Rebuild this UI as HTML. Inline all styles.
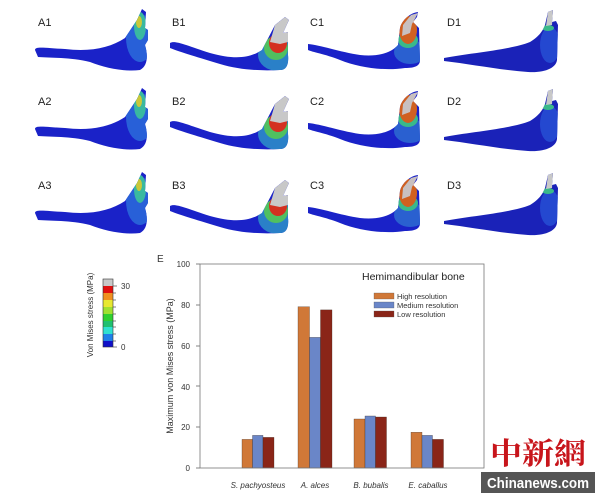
<!DOCTYPE html>
<html><head><meta charset="utf-8"><style>
body{margin:0;background:#fff;}
svg{display:block;font-family:"Liberation Sans",Arial,sans-serif;}
</style></head><body>
<svg width="600" height="494" viewBox="0 0 600 494" xmlns="http://www.w3.org/2000/svg">
<defs>
<path id="mA" d="M35,50 C35,46 45,48 65,49 C90,52 110,48 125,38 L137,20 L142,9 L146,12 L145,28 L148,30 L148,40 L145,45 C148,55 148,66 140,70 C125,72 105,68 90,62 C70,57 50,58 38,57 Z"/>
<path id="mB" d="M170,43 C175,40 185,45 210,53 C235,60 250,58 262,50 L275,25 L285,17 L289,20 L283,33 L288,32 L288,55 C289,65 286,70 280,70 C260,71 240,70 220,64 C200,58 180,52 170,48 Z"/>
<path id="mC" d="M308,44 C320,45 340,52 360,55 C380,57 392,52 398,45 L400,28 C402,20 410,13 418,12 L417,17 L413,22 L419,28 L420,60 C420,66 415,68 405,68 C385,71 360,68 340,60 C325,54 312,52 308,50 Z"/>
<path id="mD" d="M444,58 C470,53 510,50 530,42 C540,36 543,30 545,25 L548,12 L553,10 L552,22 L556,21 L558,25 L557,60 C556,68 545,73 528,72 C500,70 470,64 444,61 Z"/>
<clipPath id="cA"><use href="#mA"/></clipPath>
<clipPath id="cB"><use href="#mB"/></clipPath>
<clipPath id="cC"><use href="#mC"/></clipPath>
<clipPath id="cD"><use href="#mD"/></clipPath>
<g id="gA"><use href="#mA" fill="#1a22c8"/><g clip-path="url(#cA)">
<ellipse cx="140" cy="38" rx="14" ry="24" fill="#2860d8"/><ellipse cx="140" cy="26" rx="6" ry="14" fill="#39b9a0"/><ellipse cx="139" cy="22" rx="3" ry="6" fill="#c9c83a"/></g></g>
<g id="gB"><use href="#mB" fill="#1a22c8"/><g clip-path="url(#cB)">
<ellipse cx="278" cy="55" rx="20" ry="16" fill="#2a80c8"/><ellipse cx="276" cy="48" rx="12" ry="12" fill="#50c060"/><ellipse cx="278" cy="43" rx="9" ry="10" fill="#d43020"/><polygon points="270,42 275,25 285,17 289,20 283,33 288,32 288,42 280,44" fill="#c8c8c8"/></g></g>
<g id="gC"><use href="#mC" fill="#1a22c8"/><g clip-path="url(#cC)">
<ellipse cx="410" cy="52" rx="16" ry="12" fill="#2a60d0"/><ellipse cx="408" cy="40" rx="10" ry="8" fill="#3ab98a"/><ellipse cx="408" cy="30" rx="9" ry="14" fill="#d06020"/><polygon points="402,36 403,25 411,15 418,13 412,24 410,33" fill="#c8c0c0"/></g></g>
<g id="gD"><use href="#mD" fill="#1a22b8"/><g clip-path="url(#cD)">
<ellipse cx="550" cy="45" rx="10" ry="18" fill="#2448d0"/><ellipse cx="548" cy="28" rx="6" ry="3" fill="#3ab98a"/><polygon points="546,26 548,12 553,10 552,25" fill="#c8c8c8"/></g></g>
</defs>
<g font-size="11" fill="#222">
<use href="#gA"/><use href="#gB"/><use href="#gC"/><use href="#gD"/>
<g transform="translate(0,79)"><use href="#gA"/><use href="#gB"/><use href="#gC"/><use href="#gD"/></g>
<g transform="translate(0,163)"><use href="#gA"/><use href="#gB"/><use href="#gC"/><use href="#gD"/></g>
<text x="38" y="26">A1</text><text x="172" y="26">B1</text><text x="310" y="26">C1</text><text x="447" y="26">D1</text>
<text x="38" y="105">A2</text><text x="172" y="105">B2</text><text x="310" y="105">C2</text><text x="447" y="105">D2</text>
<text x="38" y="189">A3</text><text x="172" y="189">B3</text><text x="310" y="189">C3</text><text x="447" y="189">D3</text>
</g>
<g>
<rect x="103" y="279" width="10" height="7" fill="#c8c8c8"/>
<rect x="103" y="286" width="10" height="7" fill="#e01010"/>
<rect x="103" y="293" width="10" height="7" fill="#f09020"/>
<rect x="103" y="300" width="10" height="7" fill="#e8e830"/>
<rect x="103" y="307" width="10" height="7" fill="#a0e030"/>
<rect x="103" y="314" width="10" height="7" fill="#30d030"/>
<rect x="103" y="321" width="10" height="6" fill="#20c070"/>
<rect x="103" y="327" width="10" height="7" fill="#30e0d0"/>
<rect x="103" y="334" width="10" height="7" fill="#2080e8"/>
<rect x="103" y="341" width="10" height="6" fill="#1010c8"/>
<rect x="103" y="279" width="10" height="68" fill="none" stroke="#333" stroke-width="0.6"/>
<g stroke="#333" stroke-width="0.6"><line x1="113" y1="286" x2="117" y2="286"/><line x1="113" y1="293" x2="116" y2="293"/><line x1="113" y1="300" x2="116" y2="300"/><line x1="113" y1="307" x2="116" y2="307"/><line x1="113" y1="314" x2="116" y2="314"/><line x1="113" y1="321" x2="116" y2="321"/><line x1="113" y1="327" x2="116" y2="327"/><line x1="113" y1="334" x2="116" y2="334"/><line x1="113" y1="341" x2="116" y2="341"/><line x1="113" y1="347" x2="117" y2="347"/></g>
<text x="121" y="289" font-size="8" fill="#333">30</text>
<text x="121" y="350" font-size="8" fill="#333">0</text>
<text transform="translate(93,315) rotate(-90)" text-anchor="middle" font-size="8" fill="#333">Von Mises stress (MPa)</text>
</g>
<text x="157" y="262" font-size="10" fill="#333">E</text>
<g font-size="8" fill="#333" text-anchor="end">
<text x="190" y="267">100</text><text x="190" y="308">80</text><text x="190" y="349">60</text><text x="190" y="390">40</text><text x="190" y="430">20</text><text x="190" y="471">0</text>
</g>
<g stroke="#666" stroke-width="0.8">
<line x1="196" y1="264" x2="200" y2="264"/><line x1="196" y1="305" x2="200" y2="305"/><line x1="196" y1="346" x2="200" y2="346"/><line x1="196" y1="386" x2="200" y2="386"/><line x1="196" y1="427" x2="200" y2="427"/><line x1="196" y1="468" x2="200" y2="468"/>
</g>
<text transform="translate(173,366) rotate(-90)" text-anchor="middle" font-size="9" fill="#333">Maximum von Mises stress (MPa)</text>
<g stroke="#3a2a20" stroke-width="0.3">
<rect x="242" y="439.4" width="10.5" height="28.6" fill="#d07838"/>
<rect x="252.5" y="435.4" width="10.5" height="32.6" fill="#6a86c8"/>
<rect x="263" y="437.4" width="11" height="30.6" fill="#8a2518"/>
<rect x="298" y="306.8" width="11.5" height="161.2" fill="#d07838"/>
<rect x="309.5" y="337.4" width="11" height="130.6" fill="#6a86c8"/>
<rect x="320.5" y="309.9" width="11.5" height="158.1" fill="#8a2518"/>
<rect x="354" y="419" width="11" height="49" fill="#d07838"/>
<rect x="365" y="416" width="10.5" height="52" fill="#6a86c8"/>
<rect x="375.5" y="417" width="11" height="51" fill="#8a2518"/>
<rect x="411" y="432.3" width="11" height="35.7" fill="#d07838"/>
<rect x="422" y="435.4" width="10.5" height="32.6" fill="#6a86c8"/>
<rect x="432.5" y="439.4" width="11" height="28.6" fill="#8a2518"/>
</g>
<rect x="200" y="264" width="284" height="204" fill="none" stroke="#777" stroke-width="0.8"/>
<text x="362" y="280" font-size="10.5" fill="#222">Hemimandibular bone</text>
<rect x="374" y="293" width="20" height="6" fill="#d07838" stroke="#555" stroke-width="0.3"/>
<rect x="374" y="302" width="20" height="6" fill="#6a86c8" stroke="#555" stroke-width="0.3"/>
<rect x="374" y="311" width="20" height="6" fill="#8a2518" stroke="#555" stroke-width="0.3"/>
<g font-size="7.5" fill="#333"><text x="397" y="299">High resolution</text><text x="397" y="308">Medium resolution</text><text x="397" y="317">Low resolution</text></g>
<g font-size="8" fill="#333" font-style="italic" text-anchor="middle">
<text x="258" y="488">S. pachyosteus</text><text x="315" y="488">A. alces</text><text x="371" y="488">B. bubalis</text><text x="428" y="488">E. caballus</text>
</g>
<text x="490" y="464" font-size="30" fill="#c8151b" font-family="'Noto Serif CJK SC','Noto Sans CJK SC',serif" font-weight="bold" textLength="96" lengthAdjust="spacingAndGlyphs">中新網</text>
<rect x="481" y="472" width="114" height="21" fill="#555"/>
<text x="487" y="488" font-size="15" font-weight="bold" fill="#fff" textLength="102" lengthAdjust="spacingAndGlyphs">Chinanews.com</text>
</svg>
</body></html>
